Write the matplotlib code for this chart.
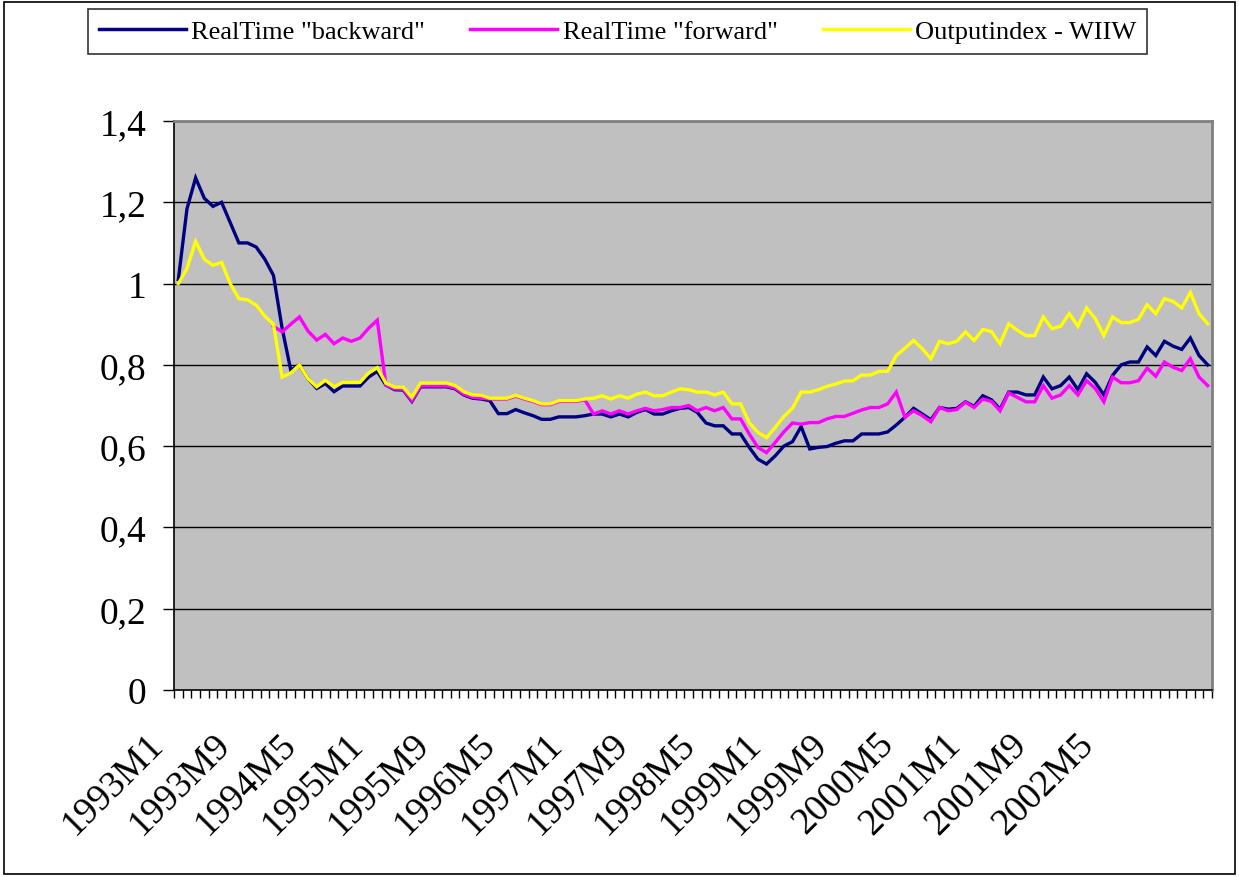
import numpy as np
import matplotlib
matplotlib.use("Agg")
import matplotlib.pyplot as plt
import matplotlib.transforms as mtransforms
from matplotlib.lines import Line2D
from matplotlib.patches import Rectangle

# monthly periods 1993M1 .. 2002M12
years = np.repeat(np.arange(1993, 2003), 12)
months = np.tile(np.arange(1, 13), 10)
periods = [f"{y}M{m}" for y, m in zip(years, months)]

backward = [
    1.01, 1.184, 1.26, 1.21, 1.19, 1.20, 1.15, 1.10, 1.10, 1.09, 1.06, 1.02,
    0.89, 0.787, 0.80, 0.766, 0.742, 0.754, 0.734, 0.748, 0.748, 0.748, 0.77, 0.784,
    0.75, 0.739, 0.738, 0.71, 0.746, 0.746, 0.746, 0.746, 0.741, 0.726, 0.718, 0.716,
    0.712, 0.68, 0.68, 0.69, 0.682, 0.675, 0.666, 0.666, 0.672, 0.672, 0.672, 0.675,
    0.679, 0.679, 0.672, 0.679, 0.672, 0.683, 0.69, 0.679, 0.679, 0.687, 0.693, 0.695,
    0.683, 0.657, 0.65, 0.65, 0.63, 0.63, 0.597, 0.568, 0.556, 0.576, 0.60, 0.611,
    0.648, 0.593, 0.597, 0.599, 0.607, 0.613, 0.613, 0.63, 0.63, 0.63, 0.635, 0.652,
    0.671, 0.693, 0.679, 0.665, 0.695, 0.691, 0.693, 0.709, 0.698, 0.724, 0.714, 0.691,
    0.733, 0.733, 0.726, 0.726, 0.77, 0.741, 0.749, 0.77, 0.739, 0.778, 0.757, 0.726,
    0.774, 0.80, 0.807, 0.807, 0.844, 0.823, 0.858, 0.846, 0.838, 0.866, 0.823, 0.80,
]

forward = [
    np.nan, np.nan, np.nan, np.nan, np.nan, np.nan, np.nan, np.nan, np.nan, np.nan, np.nan, 0.895,
    0.881, 0.90, 0.918, 0.883, 0.861, 0.875, 0.852, 0.866, 0.858, 0.866, 0.89, 0.91,
    0.75, 0.741, 0.74, 0.712, 0.748, 0.748, 0.748, 0.748, 0.743, 0.728, 0.72, 0.718,
    0.716, 0.716, 0.716, 0.723, 0.716, 0.71, 0.702, 0.702, 0.71, 0.71, 0.71, 0.714,
    0.679, 0.687, 0.679, 0.687, 0.679, 0.687, 0.693, 0.687, 0.69, 0.695, 0.695, 0.70,
    0.687, 0.695, 0.687, 0.695, 0.667, 0.667, 0.63, 0.597, 0.584, 0.609, 0.635, 0.657,
    0.654, 0.658, 0.658, 0.667, 0.673, 0.673, 0.681, 0.689, 0.695, 0.695, 0.704, 0.733,
    0.671, 0.687, 0.675, 0.66, 0.695, 0.687, 0.69, 0.708, 0.695, 0.716, 0.71, 0.687,
    0.731, 0.72, 0.709, 0.709, 0.749, 0.718, 0.726, 0.749, 0.726, 0.761, 0.742, 0.709,
    0.77, 0.756, 0.756, 0.761, 0.792, 0.772, 0.807, 0.794, 0.786, 0.815, 0.77, 0.749,
]

output_index = [
    1.0, 1.037, 1.104, 1.06, 1.045, 1.052, 1.0, 0.963, 0.96, 0.947, 0.92, 0.90,
    0.77, 0.78, 0.80, 0.766, 0.746, 0.762, 0.746, 0.757, 0.757, 0.757, 0.78, 0.793,
    0.755, 0.745, 0.745, 0.72, 0.755, 0.755, 0.755, 0.755, 0.749, 0.734, 0.726, 0.725,
    0.718, 0.718, 0.718, 0.725, 0.718, 0.712, 0.704, 0.704, 0.712, 0.712, 0.712, 0.716,
    0.718, 0.724, 0.716, 0.724, 0.718, 0.728, 0.733, 0.724, 0.724, 0.733, 0.741, 0.739,
    0.733, 0.733, 0.726, 0.733, 0.704, 0.704, 0.658, 0.634, 0.621, 0.646, 0.673, 0.693,
    0.733, 0.733, 0.739, 0.747, 0.753, 0.76, 0.761, 0.775, 0.775, 0.784, 0.784, 0.823,
    0.841, 0.86, 0.84, 0.815, 0.858, 0.852, 0.858, 0.881, 0.86, 0.887, 0.882, 0.852,
    0.901, 0.885, 0.872, 0.872, 0.918, 0.889, 0.895, 0.926, 0.895, 0.94, 0.914, 0.872,
    0.918, 0.904, 0.904, 0.912, 0.948, 0.926, 0.963, 0.956, 0.94, 0.978, 0.926, 0.901,
]

series_names = ['RealTime "backward"', 'RealTime "forward"', 'Outputindex - WIIW']
series_colors = ["#000080", "#FF00FF", "#FFFF00"]

y_ticks = [0, 0.2, 0.4, 0.6, 0.8, 1.0, 1.2, 1.4]
y_labels = ["0", "0,2", "0,4", "0,6", "0,8", "1", "1,2", "1,4"]

W, H = 1239, 878
fig = plt.figure(figsize=(W / 100, H / 100), dpi=100)
fig.patch.set_facecolor("white")
fig.patches.append(Rectangle((4 / W, 3 / H), (W - 8) / W, (H - 6) / H,
                             transform=fig.transFigure, fill=False,
                             edgecolor="black", linewidth=1.2))

ax = fig.add_axes([174 / W, 1 - 691 / H, (1212 - 174) / W, (691 - 122) / H])
ax.set_facecolor("#C0C0C0")

x = np.arange(len(periods))
for vals, name, col in zip([backward, forward, output_index], series_names, series_colors):
    ax.plot(x, vals, color=col, linewidth=2.4, label=name, solid_joinstyle="miter")

ax.set_xlim(-0.5, len(periods) - 0.5)
ax.set_ylim(0, 1.4)

serif = ["Liberation Serif", "DejaVu Serif"]
ax.set_yticks(y_ticks)
ax.set_yticklabels(y_labels, fontfamily=serif, fontsize=27)
ax.tick_params(axis="y", direction="out", length=8, width=1, pad=12)
for yv in y_ticks[1:]:
    ax.axhline(yv, color="black", linewidth=1, zorder=1)

lab_idx = list(range(0, len(periods), 8))
ax.set_xticks(lab_idx)
ax.set_xticklabels([periods[i] for i in lab_idx], fontfamily=serif, fontsize=27,
                   rotation=45, ha="right", rotation_mode="anchor")
ax.tick_params(axis="x", which="major", length=0, pad=26)
ax.set_xticks(np.arange(-0.5, len(periods), 1), minor=True)
ax.tick_params(axis="x", which="minor", direction="out", length=6, width=1)

# the labels in the original sit a little left of their months, more so to the right
for k, lab in enumerate(ax.get_xticklabels()):
    dx = (-32 - 2.8 * k) / 100
    lab.set_transform(lab.get_transform() +
                      mtransforms.ScaledTranslation(dx, 0, fig.dpi_scale_trans))

for side in ["left", "bottom"]:
    ax.spines[side].set_color("black")
    ax.spines[side].set_linewidth(1.2)
for side in ["top", "right"]:
    ax.spines[side].set_color("#808080")
    ax.spines[side].set_linewidth(2)

handles = [Line2D([], [], color=c, linewidth=2.5) for c in series_colors]
leg = fig.legend(handles, series_names, loc="center",
                 bbox_to_anchor=(88 / W, 1 - 53 / H, (1147 - 88) / W, 41 / H),
                 mode="expand", ncol=3, frameon=True, fancybox=False,
                 borderaxespad=0, handlelength=3.3, handletextpad=0.2,
                 prop={"family": serif, "size": 19})
leg.get_frame().set_edgecolor("black")
leg.get_frame().set_linewidth(1.2)

fig.savefig("out.png", dpi=100)
